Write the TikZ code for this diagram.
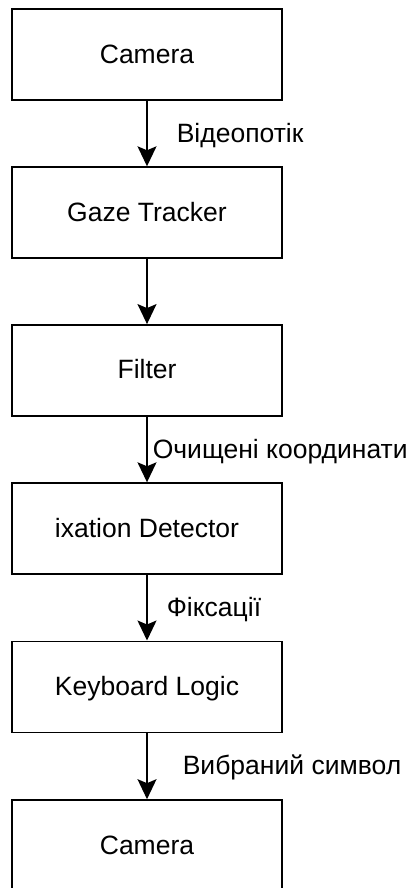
\documentclass[tikz,border=0pt]{standalone}
\usepackage{fontspec}
\setmainfont{Liberation Sans}
\usetikzlibrary{arrows.meta}

\tikzset{
  stage/.style={draw, line width=1.6pt, minimum width=270pt, minimum height=91pt,
    inner sep=0pt, font=\fontsize{26.5}{30}\selectfont, text height=19pt, text depth=2pt},
  flow/.style={line width=1.6pt, -{Stealth[length=20pt, width=19pt, inset=4pt]}},
  lbl/.style={anchor=west, inner sep=0pt, font=\fontsize{26.5}{30}\selectfont,
    text height=19pt, text depth=2pt},
}

\begin{document}
\begin{tikzpicture}[x=1pt, y=1pt]
  \useasboundingbox[fill=white] (0,0) rectangle (411,-888);

  % processing stages, top to bottom
  \node[stage] (cam)  at (147,-54.7)  {Camera};
  \node[stage] (gaze) at (147,-212.6) {Gaze Tracker};
  \node[stage] (filt) at (147,-370.4) {Filter};
  \node[stage] (fix)  at (147,-528.6) {ixation Detector};
  \node[stage] (kbd)  at (147,-686.8) {Keyboard Logic};
  \node[stage] (out)  at (147,-845.5) {Camera};

  % data flow between stages
  \draw[flow] (cam)  -- node[lbl, xshift=29pt] {Відеопотік} (gaze);
  \draw[flow] (gaze) -- (filt);
  \draw[flow] (filt) -- node[lbl, xshift=5pt] {Очищені координати} (fix);
  \draw[flow] (fix)  -- node[lbl, xshift=19pt] {Фіксації} (kbd);
  \draw[flow] (kbd)  -- node[lbl, xshift=35pt] {Вибраний символ} (out);
\end{tikzpicture}
\end{document}
